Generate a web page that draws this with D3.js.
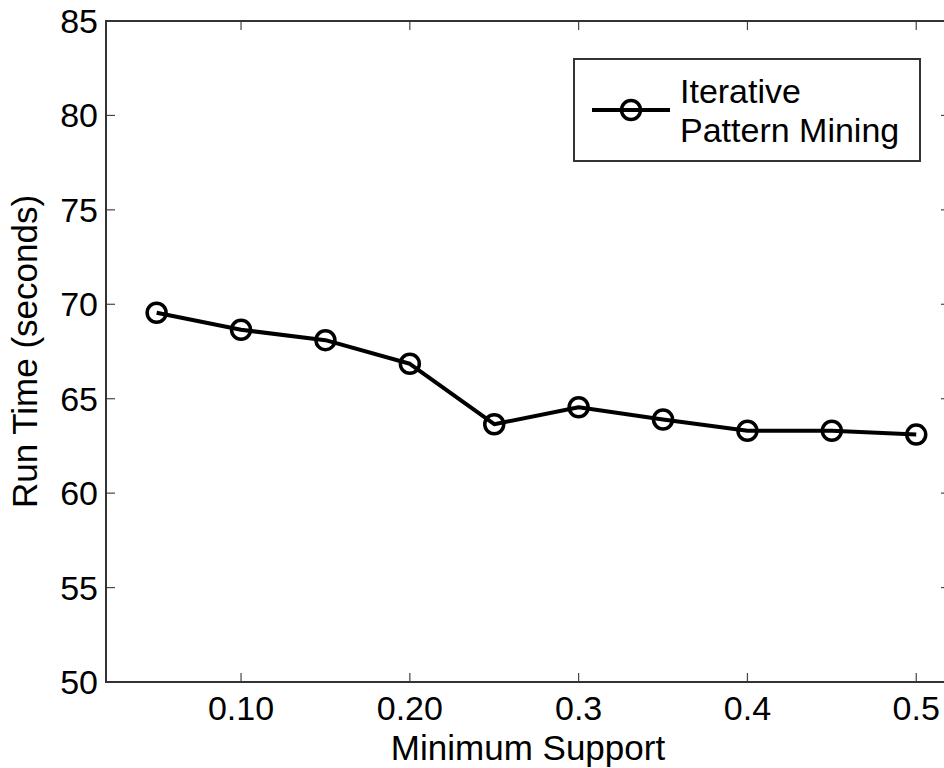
<!DOCTYPE html>
<html><head><meta charset="utf-8">
<script src="https://cdn.jsdelivr.net/npm/d3@7"></script>
<style>body{margin:0;background:#fff}svg{display:block}text{font-family:"Liberation Sans",Arial,Helvetica,sans-serif;fill:#000}</style>
</head><body><svg id="c" width="944" height="768"></svg>
<script>
const support = [0.05,0.10,0.15,0.20,0.25,0.30,0.35,0.40,0.45,0.50];
const runTime = [69.55,68.65,68.1,66.85,63.65,64.55,63.9,63.3,63.3,63.1];
const xTicks = [0.1,0.2,0.3,0.4,0.5];
const xTickLabels = ["0.10","0.20","0.3","0.4","0.5"];
const yTicks = [50,55,60,65,70,75,80,85];
const seriesName = ["Iterative","Pattern Mining"];

const svg = d3.select("#c");
const L=106, R=950, T=21, B=682;
const x = d3.scaleLinear().domain([0.02,0.52]).range([L,R]);
const y = d3.scaleLinear().domain([50,85]).range([B,T]);
const tickLen = 9;

const g = svg.append("g");
xTicks.forEach(t=>{
  g.append("line").attr("x1",x(t)).attr("x2",x(t)).attr("y1",B).attr("y2",B-tickLen).attr("stroke","#444").attr("stroke-width",1.2);
  g.append("line").attr("x1",x(t)).attr("x2",x(t)).attr("y1",T).attr("y2",T+tickLen).attr("stroke","#444").attr("stroke-width",1.2);
});
yTicks.forEach(t=>{
  g.append("line").attr("x1",L).attr("x2",L+tickLen).attr("y1",y(t)).attr("y2",y(t)).attr("stroke","#444").attr("stroke-width",1.2);
  g.append("line").attr("x1",R).attr("x2",R-tickLen).attr("y1",y(t)).attr("y2",y(t)).attr("stroke","#444").attr("stroke-width",1.2);
});
svg.append("rect").attr("x",L).attr("y",T).attr("width",R-L).attr("height",B-T)
  .attr("fill","none").attr("stroke","#333").attr("stroke-width",2);

xTicks.forEach((t,i)=>{
  svg.append("text").attr("x",x(t)).attr("y",720).attr("text-anchor","middle")
    .attr("font-size",34).text(xTickLabels[i]);
});
yTicks.forEach(t=>{
  svg.append("text").attr("x",98).attr("y",y(t)+12).attr("text-anchor","end")
    .attr("font-size",34).text(t);
});
svg.append("text").attr("x",(L+R)/2).attr("y",760).attr("text-anchor","middle")
  .attr("font-size",35).text("Minimum Support");
svg.append("text").attr("transform",`translate(37,${(T+B)/2}) rotate(-90)`)
  .attr("text-anchor","middle").attr("font-size",35).text("Run Time (seconds)");

const data = support.map((s,i)=>({s,v:runTime[i]}));
svg.append("path").datum(data)
  .attr("d",d3.line().x(d=>x(d.s)).y(d=>y(d.v)))
  .attr("fill","none").attr("stroke","#000").attr("stroke-width",4).attr("stroke-linejoin","round");
svg.selectAll("circle.m").data(data).join("circle").attr("class","m")
  .attr("cx",d=>x(d.s)).attr("cy",d=>y(d.v)).attr("r",9.5)
  .attr("fill","none").attr("stroke","#000").attr("stroke-width",3.5);

const lg = svg.append("g");
lg.append("rect").attr("x",574).attr("y",59).attr("width",346).attr("height",102)
  .attr("fill","#fff").attr("stroke","#333").attr("stroke-width",2);
lg.append("line").attr("x1",592).attr("x2",670).attr("y1",110).attr("y2",110)
  .attr("stroke","#000").attr("stroke-width",4);
lg.append("circle").attr("cx",631).attr("cy",110).attr("r",9.5)
  .attr("fill","none").attr("stroke","#000").attr("stroke-width",3.5);
seriesName.forEach((s,i)=>{
  lg.append("text").attr("x",680).attr("y",103+i*39).attr("font-size",34).text(s);
});
</script></body></html>
